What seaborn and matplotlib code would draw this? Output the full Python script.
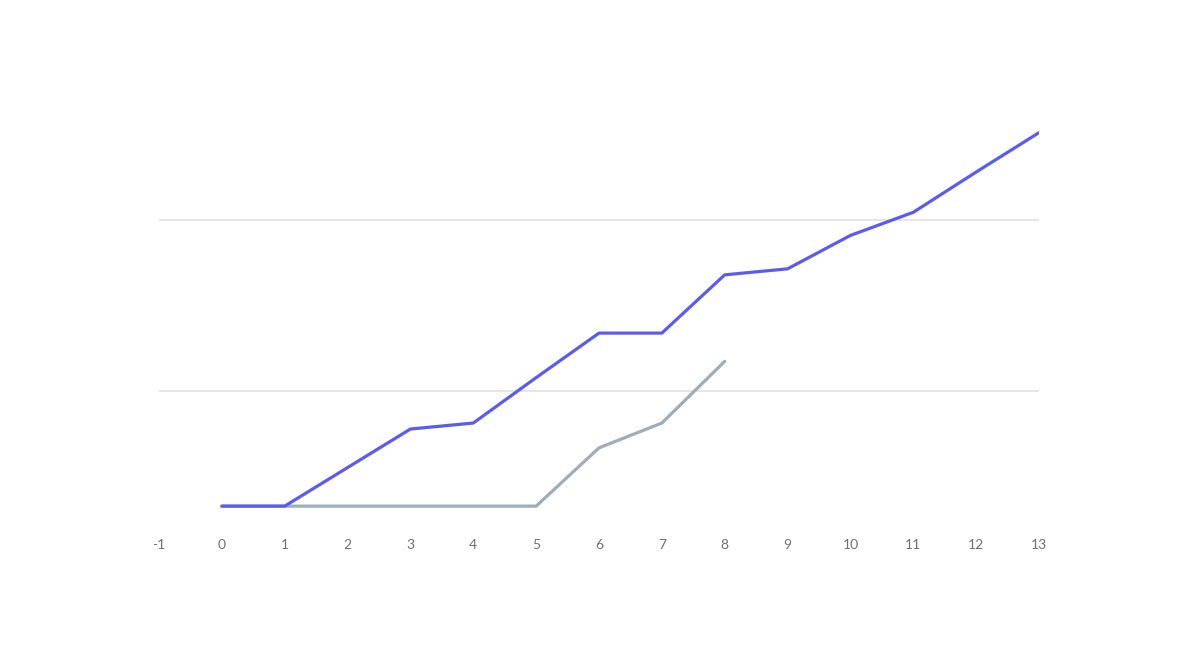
import matplotlib
matplotlib.use("Agg")
import matplotlib.pyplot as plt
import seaborn as sns
import pandas as pd

# Data
x_blue = [0, 1, 2, 3, 4, 5, 6, 7, 8, 9, 10, 11, 12, 13]
y_blue = [33, 33, 55.5, 78, 81.5, 108, 134, 134, 168, 171.5, 191, 204.5, 228, 251]
x_gray = [0, 1, 2, 3, 4, 5, 6, 7, 8]
y_gray = [33, 33, 33, 33, 33, 33, 67, 81.5, 117.5]
series_names = ["blue", "gray"]
x_ticks = list(range(-1, 14))
y_grid = [100, 200]

df = pd.concat([
    pd.DataFrame({"x": x_gray, "y": y_gray, "s": series_names[1]}),
    pd.DataFrame({"x": x_blue, "y": y_blue, "s": series_names[0]}),
])

sns.set_theme(style="white")
plt.rcParams['font.family'] = ['Lato', 'DejaVu Sans']

fig = plt.figure(figsize=(12, 6.62), dpi=100)
W, H = 1200, 662
left, right = 159, 1039
top, bottom = 100, 520
ax = fig.add_axes([left / W, 1 - bottom / H, (right - left) / W, (bottom - top) / H])

palette = {"blue": "#5b5bf2", "gray": "#9fadb8"}
sns.lineplot(data=df, x="x", y="y", hue="s", palette=palette,
             linewidth=2.3, ax=ax, legend=False, sort=False, estimator=None)

ax.set_xlim(-1, 13)
ax.set_ylim(24.9, 270.05)
ax.set_xticks(x_ticks)
ax.set_xticklabels([str(t) for t in x_ticks])
ax.set_yticks(y_grid)
ax.set_yticklabels([])
ax.yaxis.grid(True, color="#e4e4e4", linewidth=1.3)
ax.xaxis.grid(False)
ax.set_axisbelow(True)
ax.tick_params(axis="x", length=0, pad=14, labelsize=10, labelcolor="#707070")
ax.tick_params(axis="y", length=0)
ax.set_xlabel("")
ax.set_ylabel("")
for sp in ax.spines.values():
    sp.set_visible(False)

fig.savefig("out.png", dpi=100, facecolor="white")
